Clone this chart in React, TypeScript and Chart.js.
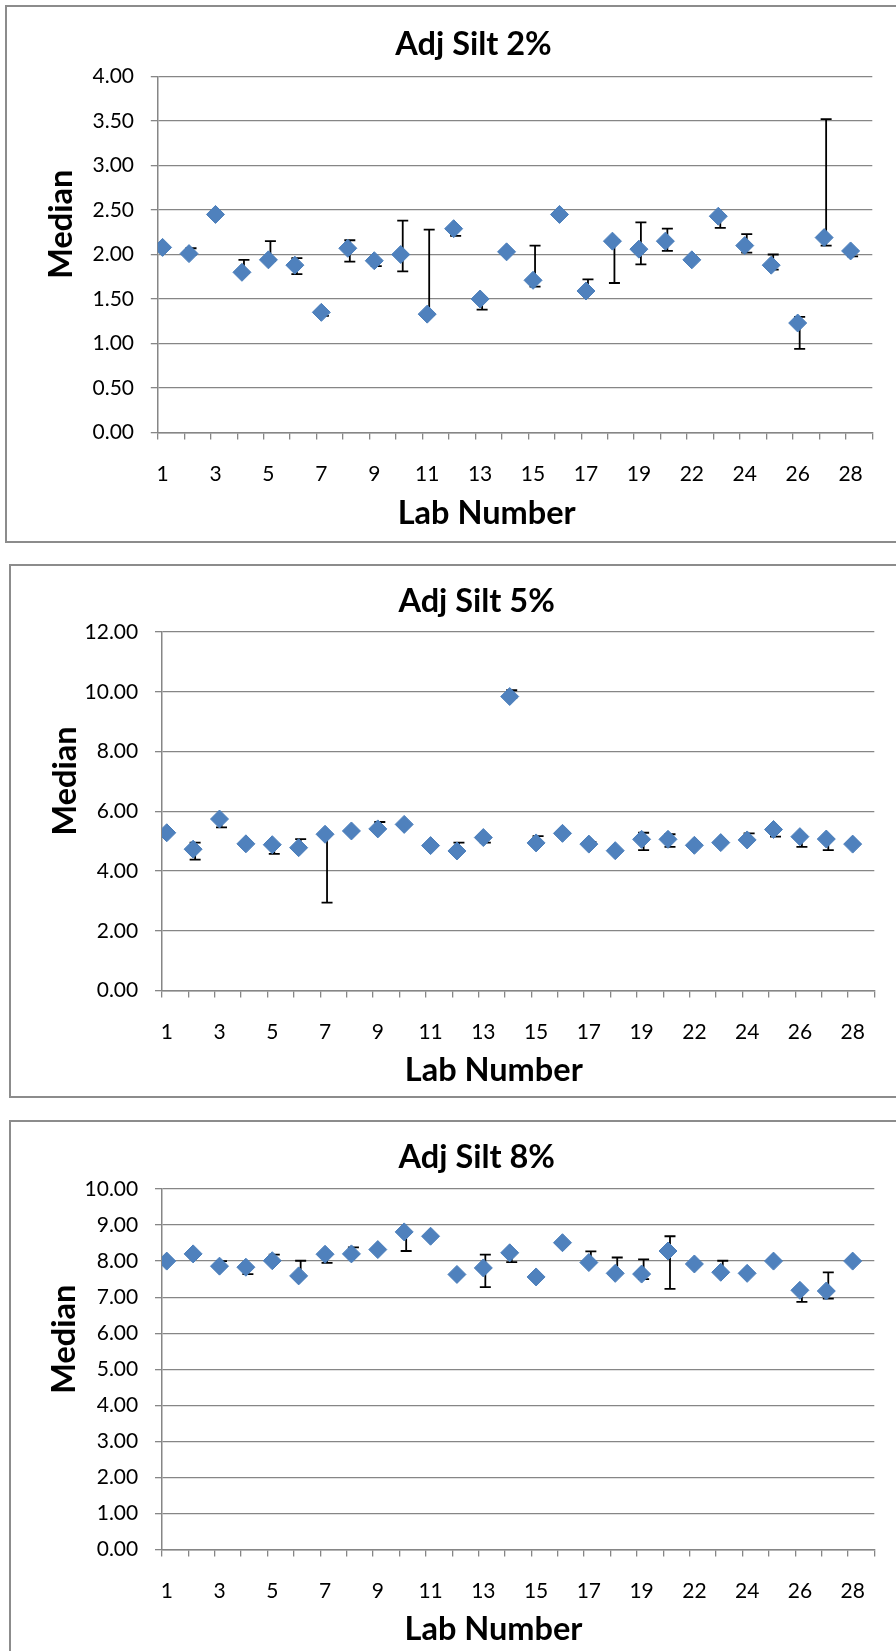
import React, { useEffect, useRef } from 'react';
import { Chart, registerables } from 'chart.js';

Chart.register(...registerables);
Chart.defaults.font.family = 'Lato';

// ---------- data ----------
const LAB_NUMBERS = ['1', '2', '3', '4', '5', '6', '7', '8', '9', '10', '11', '12', '13', '14', '15', '16', '17', '18', '19', '20', '22', '23', '24', '25', '26', '27', '28'];

const SILT2_MEDIAN = [2.08, 2.01, 2.45, 1.80, 1.94, 1.88, 1.35, 2.07, 1.93, 2.00, 1.33, 2.29, 1.50, 2.03, 1.71, 2.45, 1.59, 2.15, 2.06, 2.15, 1.94, 2.43, 2.10, 1.88, 1.23, 2.19, 2.04];
const SILT2_LOW = [2.08, 2.00, 2.45, 1.79, 1.93, 1.78, 1.31, 1.92, 1.87, 1.81, 1.32, 2.21, 1.38, 2.03, 1.64, 2.45, 1.58, 1.68, 1.89, 2.04, 1.94, 2.30, 2.02, 1.83, 0.94, 2.10, 1.98];
const SILT2_HIGH = [2.08, 2.07, 2.45, 1.94, 2.15, 1.96, 1.36, 2.16, 1.94, 2.38, 2.28, 2.30, 1.51, 2.03, 2.10, 2.45, 1.72, 2.16, 2.36, 2.29, 1.94, 2.44, 2.23, 2.00, 1.30, 3.52, 2.05];

const SILT5_MEDIAN = [5.28, 4.73, 5.74, 4.91, 4.88, 4.78, 5.23, 5.34, 5.41, 5.56, 4.85, 4.67, 5.12, 9.84, 4.94, 5.26, 4.90, 4.68, 5.06, 5.06, 4.86, 4.95, 5.04, 5.39, 5.15, 5.07, 4.90];
const SILT5_LOW = [5.28, 4.38, 5.46, 4.91, 4.57, 4.77, 2.94, 5.34, 5.40, 5.56, 4.85, 4.66, 4.95, 9.80, 4.93, 5.26, 4.89, 4.68, 4.70, 4.81, 4.86, 4.95, 5.03, 5.15, 4.81, 4.70, 4.90];
const SILT5_HIGH = [5.28, 4.95, 5.75, 4.91, 4.89, 5.07, 5.24, 5.34, 5.64, 5.56, 4.85, 4.95, 5.13, 10.05, 5.17, 5.26, 4.97, 4.68, 5.28, 5.23, 4.86, 4.95, 5.26, 5.40, 5.16, 5.08, 4.90];

const SILT8_MEDIAN = [8.00, 8.20, 7.86, 7.83, 8.01, 7.59, 8.19, 8.20, 8.32, 8.81, 8.69, 7.63, 7.81, 8.23, 7.56, 8.51, 7.96, 7.66, 7.64, 8.28, 7.92, 7.69, 7.66, 8.00, 7.19, 7.17, 8.00];
const SILT8_LOW = [8.00, 8.20, 7.85, 7.64, 8.00, 7.58, 7.95, 8.19, 8.32, 8.28, 8.69, 7.63, 7.28, 7.97, 7.56, 8.51, 7.95, 7.65, 7.50, 7.23, 7.92, 7.68, 7.66, 8.00, 6.87, 6.96, 8.00];
const SILT8_HIGH = [8.00, 8.20, 8.00, 7.84, 8.18, 8.01, 8.20, 8.38, 8.32, 8.82, 8.69, 7.63, 8.18, 8.24, 7.56, 8.51, 8.27, 8.10, 8.05, 8.69, 7.92, 8.01, 7.66, 8.00, 7.20, 7.69, 8.00];

const TITLES = ['Adj Silt 2%', 'Adj Silt 5%', 'Adj Silt 8%'];
const Y_MAX = [4, 12, 10];
const Y_STEP = [0.5, 2, 1];
const X_TITLE = 'Lab Number';
const Y_TITLE = 'Median';

// ---------- layout / style (page coordinates) ----------
const FRAMES = [
  { left: 5, top: 5, height: 538, plotLeft: 157.8, plotRight: 872.3, plotTop: 76.5, plotBottom: 432.5, titleX: 473.5, titleBase: 55.1, yTitleX: 71.7, yTitleY: 224.2, xTitleX: 486.7, xTitleBase: 524 },
  { left: 9, top: 564, height: 534, plotLeft: 162, plotRight: 874.3, plotTop: 632, plotBottom: 990.5, titleX: 476.6, titleBase: 611.6, yTitleX: 76, yTitleY: 780.9, xTitleX: 493.8, xTitleBase: 1080.7 },
  { left: 9, top: 1120, height: 534, plotLeft: 162, plotRight: 874.3, plotTop: 1189, plotBottom: 1549.5, titleX: 476.8, titleBase: 1168.4, yTitleX: 75.3, yTitleY: 1339.2, xTitleX: 493.5, xTitleBase: 1640.1 },
];
const CANVAS_W = 900;
const POINT_SHIFT = 0.18; // marker position inside each category slot
const ERR_SHIFT_PX = 2;
const CAP_HALF = 5.5;
const GRID = '#868686';
const MARKER_FILL = '#4F81BD';
const MARKER_EDGE = '#4A7EBB';
const TITLE_FONT = 'bold 32.5px Lato';
const AXIS_TITLE_FONT = 'bold 32.5px Lato';
const TICK_FONT_SIZE = 21;

type Spec = { title: string; median: number[]; low: number[]; high: number[]; yMax: number; yStep: number; frame: typeof FRAMES[number] };

const SPECS: Spec[] = [
  { title: TITLES[0], median: SILT2_MEDIAN, low: SILT2_LOW, high: SILT2_HIGH, yMax: Y_MAX[0], yStep: Y_STEP[0], frame: FRAMES[0] },
  { title: TITLES[1], median: SILT5_MEDIAN, low: SILT5_LOW, high: SILT5_HIGH, yMax: Y_MAX[1], yStep: Y_STEP[1], frame: FRAMES[1] },
  { title: TITLES[2], median: SILT8_MEDIAN, low: SILT8_LOW, high: SILT8_HIGH, yMax: Y_MAX[2], yStep: Y_STEP[2], frame: FRAMES[2] },
];

function makeConfig(spec: Spec): any {
  const f = spec.frame;
  const H = f.height;
  const errorBars = {
    id: 'errorBars',
    beforeDatasetsDraw(chart: any) {
      const { ctx } = chart;
      const x = chart.scales.x;
      const y = chart.scales.y;
      ctx.save();
      ctx.strokeStyle = '#000';
      ctx.lineWidth = 1.8;
      spec.low.forEach((lo, i) => {
        const hi = spec.high[i];
        if (lo === hi) return;
        const px = x.getPixelForValue(i + POINT_SHIFT) + ERR_SHIFT_PX;
        const yl = y.getPixelForValue(lo);
        const yh = y.getPixelForValue(hi);
        ctx.beginPath();
        ctx.moveTo(px, yl);
        ctx.lineTo(px, yh);
        ctx.moveTo(px - CAP_HALF, yl);
        ctx.lineTo(px + CAP_HALF, yl);
        ctx.moveTo(px - CAP_HALF, yh);
        ctx.lineTo(px + CAP_HALF, yh);
        ctx.stroke();
      });
      ctx.restore();
    },
  };
  const texts = {
    id: 'texts',
    afterDraw(chart: any) {
      const { ctx } = chart;
      ctx.save();
      ctx.fillStyle = '#000';
      ctx.textAlign = 'center';
      ctx.textBaseline = 'alphabetic';
      ctx.font = TITLE_FONT;
      ctx.fillText(spec.title, f.titleX - f.left, f.titleBase - f.top);
      ctx.font = AXIS_TITLE_FONT;
      ctx.fillText(X_TITLE, f.xTitleX - f.left, f.xTitleBase - f.top);
      ctx.translate(f.yTitleX - f.left, f.yTitleY - f.top);
      ctx.rotate(-Math.PI / 2);
      ctx.fillText(Y_TITLE, 0, 0);
      ctx.restore();
    },
  };
  const slotPx = (f.plotRight - f.plotLeft) / LAB_NUMBERS.length;
  return {
    type: 'scatter',
    data: {
      datasets: [
        {
          data: spec.median.map((v, i) => ({ x: i + POINT_SHIFT, y: v })),
          pointStyle: 'rectRot',
          pointRadius: 9,
          backgroundColor: MARKER_FILL,
          borderColor: MARKER_EDGE,
          borderWidth: 1,
          showLine: false,
        },
      ],
    },
    plugins: [errorBars, texts],
    options: {
      responsive: false,
      animation: false,
      events: [],
      layout: {
        padding: { top: f.plotTop - f.top, left: 0, right: CANVAS_W - (f.plotRight - f.left), bottom: 0 },
      },
      plugins: { legend: { display: false }, title: { display: false }, tooltip: { enabled: false } },
      scales: {
        x: {
          type: 'linear',
          min: 0,
          max: LAB_NUMBERS.length,
          afterFit: (s: any) => { s.height = H - (f.plotBottom - f.top); },
          afterBuildTicks: (s: any) => {
            s.ticks = [...LAB_NUMBERS, ''].map((_, k) => ({ value: k }));
          },
          grid: { drawOnChartArea: false, color: GRID, lineWidth: 1.3, tickLength: 7 },
          border: { display: true, color: GRID, width: 1.5 },
          ticks: {
            autoSkip: false,
            maxRotation: 0,
            minRotation: 0,
            padding: 22.6,
            labelOffset: POINT_SHIFT * slotPx,
            color: '#000',
            font: { size: TICK_FONT_SIZE, lineHeight: 1.2 },
            callback: (_v: any, index: number) => (index % 2 === 0 && index < LAB_NUMBERS.length ? LAB_NUMBERS[index] : ''),
          },
        },
        y: {
          min: 0,
          max: spec.yMax,
          afterFit: (s: any) => { s.width = f.plotLeft - f.left; },
          grid: { color: GRID, lineWidth: 1.3, tickLength: 7 },
          border: { display: true, color: GRID, width: 1.5 },
          ticks: {
            stepSize: spec.yStep,
            padding: 16.8,
            color: '#000',
            font: { size: TICK_FONT_SIZE },
            callback: (v: any) => Number(v).toFixed(2),
          },
        },
      },
    },
  };
}

function SiltChart({ spec }: { spec: Spec }) {
  const ref = useRef<HTMLCanvasElement>(null);
  const f = spec.frame;
  useEffect(() => {
    let chart: Chart | null = null;
    let cancelled = false;
    const build = () => {
      if (cancelled || !ref.current) return;
      chart = new Chart(ref.current, makeConfig(spec));
    };
    const fonts: any = (document as any).fonts;
    if (fonts && fonts.load) {
      Promise.all([fonts.load('21px Lato'), fonts.load('bold 32px Lato')]).then(build, build);
    } else {
      build();
    }
    return () => {
      cancelled = true;
      if (chart) chart.destroy();
    };
  }, [spec]);
  return (
    <div style={{ position: 'absolute', left: f.left, top: f.top, width: CANVAS_W, height: f.height }}>
      <canvas ref={ref} width={CANVAS_W} height={f.height} style={{ position: 'absolute', left: 0, top: 0, width: CANVAS_W, height: f.height }} />
      <div style={{ position: 'absolute', inset: 0, border: '2px solid #8c8c8c', boxSizing: 'border-box', pointerEvents: 'none' }} />
    </div>
  );
}

export default function App() {
  return (
    <div style={{ position: 'absolute', left: 0, top: 0, width: 896, height: 1651, overflow: 'hidden', background: '#fff' }}>
      {SPECS.map((s) => (
        <SiltChart key={s.title} spec={s} />
      ))}
    </div>
  );
}
